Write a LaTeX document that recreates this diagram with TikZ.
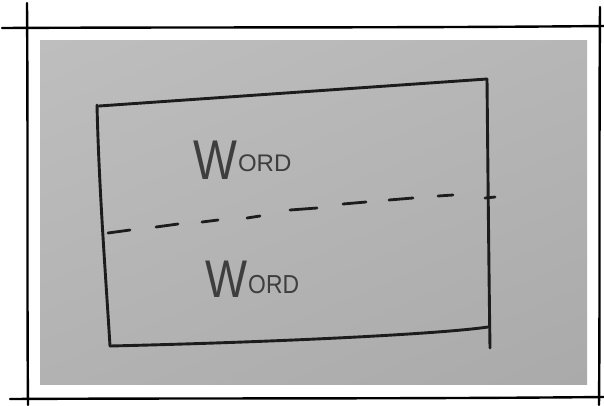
\documentclass[tikz,border=0pt]{standalone}
\usepackage{fontspec}
\usepackage{graphicx}
\usetikzlibrary{shadings}
\setmainfont{Liberation Sans}
\definecolor{ink}{HTML}{1C1C1C}
\definecolor{paperA}{HTML}{BEBEBE}
\definecolor{paperB}{HTML}{AAAAAA}
\tikzset{
  frameline/.style={line width=2.4pt, black, line cap=round},
  sketch/.style={line width=2.9pt, ink, line cap=round, line join=round},
  dashseg/.style={line width=2.8pt, ink, line cap=round},
  wordlabel/.style={inner sep=0pt, anchor=west, text=ink!85!white}
}
\begin{document}
\begin{tikzpicture}[x=1pt,y=-1pt]
\useasboundingbox (0,0) rectangle (604,405);
% white page
\fill[white] (0,0) rectangle (604,405);
% photo paper
\shade[upper left=paperA, upper right=paperA!60!paperB, lower left=paperA!40!paperB, lower right=paperB]
  (40,40) rectangle (587,384);
% outer hand-drawn frame
\draw[frameline] (2,28) .. controls (200,27) and (400,28) .. (604,26);
\draw[frameline] (10,399) .. controls (200,398) and (400,399) .. (604,397);
\draw[frameline] (27,3) .. controls (28,150) and (27,300) .. (28,405);
\draw[frameline] (600,7) .. controls (599,150) and (600,300) .. (599,405);
% sketched box
\coordinate (tl) at (97,105);
\coordinate (tr) at (487,79);
\coordinate (bl) at (110,346);
\coordinate (br) at (488,327);
\coordinate (rb) at (490,348);
\draw[sketch] (tl) .. controls (99,190) and (106,280) .. (bl);
\draw[sketch] (bl) .. controls (280,342) and (440,334) .. (br);
\draw[sketch] (99,106) -- (tr);
\draw[sketch] (tr) .. controls (488,180) and (489,280) .. (rb);
% dashed divider
\draw[dashseg] (108,233) -- (130,230);
\draw[dashseg] (156,227) -- (178,224);
\draw[dashseg] (202,222) -- (218,220);
\draw[dashseg] (247,218) -- (260,216);
\draw[dashseg] (290,210) -- (317,208);
\draw[dashseg] (343,204) -- (366,202);
\draw[dashseg] (389,200) -- (413,198);
\draw[dashseg] (438,196) -- (453,195);
\draw[dashseg] (485,198) -- (495,197);
% words
\node[wordlabel] (w1) at (193,160)
  {{\fontsize{56}{56}\selectfont\scalebox{0.83}[1]{W}}\hspace{1pt}\raisebox{8pt}{\fontsize{24}{24}\selectfont ORD}};
\node[wordlabel] (w2) at (205,279)
  {{\fontsize{53}{53}\selectfont\scalebox{0.84}[1]{W}}\hspace{1pt}\raisebox{4pt}{\fontsize{26}{26}\selectfont\scalebox{0.88}[1]{ORD}}};
\end{tikzpicture}
\end{document}
